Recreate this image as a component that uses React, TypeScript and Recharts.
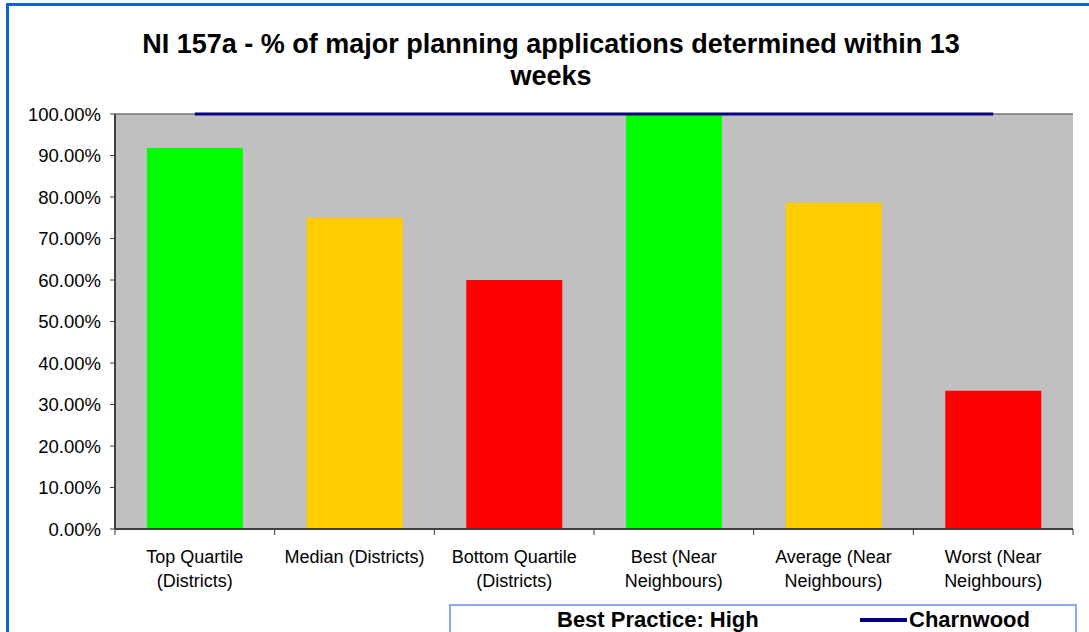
import React from 'react';
import { ComposedChart, Bar, Line, Cell, XAxis, YAxis, CartesianGrid, ReferenceLine } from 'recharts';

const CATEGORIES = [
  'Top Quartile (Districts)',
  'Median (Districts)',
  'Bottom Quartile (Districts)',
  'Best (Near Neighbours)',
  'Average (Near Neighbours)',
  'Worst (Near Neighbours)',
];
// how each category label wraps under the axis
const TICK_LINES = [
  ['Top Quartile', '(Districts)'],
  ['Median (Districts)'],
  ['Bottom Quartile', '(Districts)'],
  ['Best (Near', 'Neighbours)'],
  ['Average (Near', 'Neighbours)'],
  ['Worst (Near', 'Neighbours)'],
];
const VALUES = [0.918, 0.75, 0.6, 1.0, 0.786, 0.333];
const CHARNWOOD = [1, 1, 1, 1, 1, 1];
const BAR_COLORS = ['#00ff00', '#ffcc00', '#ff0000', '#00ff00', '#ffcc00', '#ff0000'];
const Y_TICKS = [0, 0.1, 0.2, 0.3, 0.4, 0.5, 0.6, 0.7, 0.8, 0.9, 1];

const W = 1089;
const H = 632;
const PLOT_LEFT = 115;
const PLOT_RIGHT = 1073;
const BAND = (PLOT_RIGHT - PLOT_LEFT) / CATEGORIES.length;
const FONT = '"Liberation Sans", Arial, sans-serif';

const data = CATEGORIES.map((name, i) => ({ name, value: VALUES[i], charnwood: CHARNWOOD[i] }));

const CategoryTick = (props: any) => {
  const { x, y, index } = props;
  const lines = TICK_LINES[index] || [];
  return (
    <g>
      <line x1={x - BAND / 2} x2={x - BAND / 2} y1={y - 8} y2={y - 2} stroke="#333" />
      {index === CATEGORIES.length - 1 && (
        <line x1={x + BAND / 2} x2={x + BAND / 2} y1={y - 8} y2={y - 2} stroke="#333" />
      )}
      <text x={x} y={y + 26} textAnchor="middle" fontSize={18} fontFamily={FONT} fill="#000">
        {lines.map((l, i) => (
          <tspan key={i} x={x} dy={i === 0 ? 0 : 24}>
            {l}
          </tspan>
        ))}
      </text>
    </g>
  );
};

export default function App() {
  return (
    <div style={{ position: 'absolute', left: 0, top: 0, width: W, height: H, overflow: 'hidden', background: '#fff', fontFamily: FONT }}>
      <div style={{ position: 'absolute', left: 6, top: 3, width: 1200, height: 800, border: '3px solid #0a64d2' }} />
      <div style={{ position: 'absolute', left: 0, top: 28, width: 1102, textAlign: 'center', fontWeight: 'bold', fontSize: 27, lineHeight: '32px', color: '#000' }}>
        NI 157a - % of major planning applications determined within 13
        <br />
        weeks
      </div>
      <div style={{ position: 'absolute', left: 0, top: 0 }}>
        <ComposedChart
          width={W}
          height={H}
          data={data}
          margin={{ top: 114, right: W - PLOT_RIGHT, bottom: 43, left: 0 }}
          barCategoryGap="20%"
        >
          <CartesianGrid vertical={false} stroke="#111" fill="#c0c0c0" fillOpacity={1} />
          <XAxis
            dataKey="name"
            interval={0}
            height={60}
            tickLine={false}
            axisLine={{ stroke: '#404040', strokeWidth: 2 }}
            tick={<CategoryTick />}
          />
          <YAxis
            yAxisId="left"
            domain={[0, 1]}
            ticks={Y_TICKS}
            width={PLOT_LEFT}
            interval={0}
            tickFormatter={(v: number) => `${(v * 100).toFixed(2)}%`}
            tick={{ fontSize: 18.5, fill: '#000', fontFamily: FONT }}
            tickLine={{ stroke: '#404040' }}
            tickSize={5}
            tickMargin={9}
            axisLine={{ stroke: '#404040', strokeWidth: 2 }}
          />
          <YAxis
            yAxisId="right"
            orientation="right"
            domain={[0, 1]}
            width={0}
            tick={false}
            tickLine={false}
            axisLine={{ stroke: '#808080', strokeWidth: 2 }}
          />
          <ReferenceLine yAxisId="left" y={1} stroke="#a6a6a6" strokeWidth={1} />
          <Bar yAxisId="left" dataKey="value" isAnimationActive={false}>
            {data.map((d, i) => (
              <Cell key={d.name} fill={BAR_COLORS[i]} />
            ))}
          </Bar>
          <Line
            yAxisId="left"
            dataKey="charnwood"
            stroke="#000080"
            strokeWidth={3}
            dot={false}
            activeDot={false}
            isAnimationActive={false}
          />
        </ComposedChart>
      </div>
      <div style={{ position: 'absolute', left: 449, top: 604, width: 624, height: 60, border: '2px solid #8aa8f8', background: '#fff' }}>
        <div style={{ position: 'absolute', left: 106, top: 1, fontWeight: 'bold', fontSize: 22, color: '#000' }}>Best Practice: High</div>
        <div style={{ position: 'absolute', left: 409, top: 12, width: 47, height: 4, background: '#000080' }} />
        <div style={{ position: 'absolute', left: 458, top: 1, fontWeight: 'bold', fontSize: 22, color: '#000' }}>Charnwood</div>
      </div>
    </div>
  );
}
